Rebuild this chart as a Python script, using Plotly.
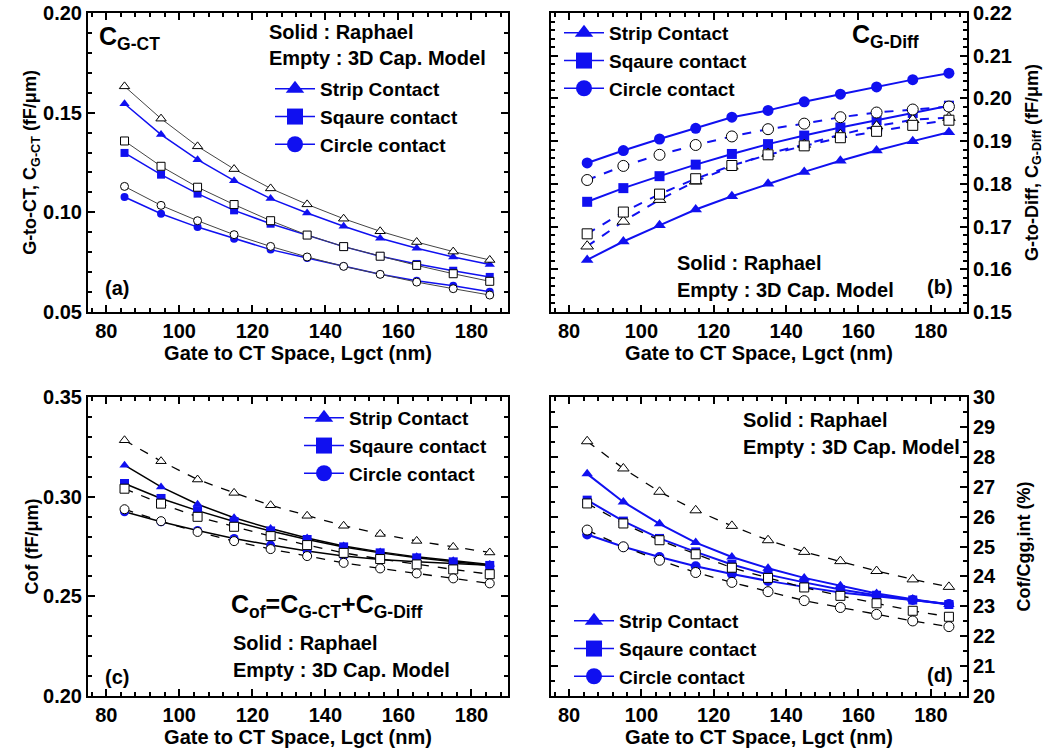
import plotly.graph_objects as go

W, H = 1064, 753

# ---------------- data ----------------
lgct = [85, 95, 105, 115, 125, 135, 145, 155, 165, 175, 185]

# (a) C_G-CT (fF/um)
a_strip_sim = [0.1545, 0.1390, 0.1264, 0.1159, 0.1069, 0.0997, 0.0930, 0.0870, 0.0820, 0.0776, 0.0738]
a_strip_mod = [0.1632, 0.1470, 0.1331, 0.1217, 0.1120, 0.1040, 0.0968, 0.0905, 0.0851, 0.0803, 0.0761]
a_square_sim = [0.1298, 0.1189, 0.1094, 0.1010, 0.0943, 0.0886, 0.0828, 0.0780, 0.0741, 0.0707, 0.0676]
a_square_mod = [0.1358, 0.1231, 0.1126, 0.1039, 0.0958, 0.0886, 0.0828, 0.0780, 0.0734, 0.0692, 0.0654]
a_circle_sim = [0.1077, 0.0993, 0.0926, 0.0868, 0.0813, 0.0771, 0.0729, 0.0689, 0.0657, 0.0632, 0.0602]
a_circle_mod = [0.1130, 0.1035, 0.0958, 0.0888, 0.0829, 0.0776, 0.0729, 0.0689, 0.0650, 0.0617, 0.0585]

# (b) C_G-Diff (fF/um)
b_strip_sim = [0.1622, 0.1665, 0.1703, 0.1740, 0.1771, 0.1800, 0.1828, 0.1854, 0.1878, 0.1900, 0.1921]
b_strip_mod = [0.1654, 0.1712, 0.1763, 0.1806, 0.1841, 0.1871, 0.1892, 0.1915, 0.1935, 0.1950, 0.1955]
b_square_sim = [0.1758, 0.1790, 0.1818, 0.1845, 0.1870, 0.1893, 0.1913, 0.1932, 0.1949, 0.1966, 0.1983]
b_square_mod = [0.1683, 0.1734, 0.1776, 0.1812, 0.1843, 0.1868, 0.1889, 0.1908, 0.1923, 0.1937, 0.1949]
b_circle_sim = [0.1849, 0.1878, 0.1905, 0.1930, 0.1956, 0.1972, 0.1992, 0.2010, 0.2027, 0.2044, 0.2059]
b_circle_mod = [0.1809, 0.1842, 0.1868, 0.1891, 0.1911, 0.1928, 0.1941, 0.1956, 0.1967, 0.1974, 0.1981]

# (c) Cof (fF/um)
c_strip_sim = [0.3158, 0.3049, 0.2962, 0.2894, 0.2840, 0.2793, 0.2753, 0.2723, 0.2698, 0.2678, 0.2660]
c_strip_mod = [0.3283, 0.3178, 0.3086, 0.3019, 0.2957, 0.2904, 0.2854, 0.2813, 0.2778, 0.2748, 0.2720]
c_square_sim = [0.3066, 0.2991, 0.2930, 0.2875, 0.2828, 0.2785, 0.2748, 0.2718, 0.2693, 0.2673, 0.2655]
c_square_mod = [0.3040, 0.2965, 0.2899, 0.2849, 0.2802, 0.2757, 0.2718, 0.2687, 0.2660, 0.2635, 0.2611]
c_circle_sim = [0.2924, 0.2874, 0.2830, 0.2790, 0.2757, 0.2727, 0.2702, 0.2685, 0.2673, 0.2665, 0.2656]
c_circle_mod = [0.2937, 0.2877, 0.2823, 0.2777, 0.2737, 0.2702, 0.2668, 0.2640, 0.2615, 0.2590, 0.2565]

# (d) Cof/Cgg,int (%)
d_strip_sim = [27.43, 26.49, 25.76, 25.13, 24.65, 24.27, 23.95, 23.69, 23.43, 23.24, 23.06]
d_strip_mod = [28.52, 27.61, 26.83, 26.21, 25.69, 25.21, 24.82, 24.51, 24.18, 23.90, 23.65]
d_square_sim = [26.55, 25.85, 25.27, 24.82, 24.40, 24.06, 23.80, 23.56, 23.37, 23.21, 23.06]
d_square_mod = [26.44, 25.77, 25.21, 24.74, 24.29, 23.95, 23.63, 23.35, 23.10, 22.85, 22.65]
d_circle_sim = [25.40, 24.99, 24.65, 24.34, 24.08, 23.85, 23.65, 23.46, 23.34, 23.21, 23.08]
d_circle_mod = [25.55, 24.99, 24.54, 24.13, 23.80, 23.49, 23.19, 22.96, 22.73, 22.51, 22.32]

legend_names = ["Strip Contact", "Sqaure contact", "Circle contact"]
symbols = ["triangle-up", "square", "circle"]

BLUE = "#1010f0"
FONT = "Liberation Sans"


def px(x):
    return x / W


def py(y):
    return 1 - y / H


fig = go.Figure()

panels = [
    dict(xa="x", ya="y", sim=[a_strip_sim, a_square_sim, a_circle_sim],
         mod=[a_strip_mod, a_square_mod, a_circle_mod],
         sim_line=dict(color=BLUE, width=1.5), mod_line=dict(color="#444444", width=1),
         msize=[9, 8, 8], legend="legend"),
    dict(xa="x2", ya="y2", sim=[b_strip_sim, b_square_sim, b_circle_sim],
         mod=[b_strip_mod, b_square_mod, b_circle_mod],
         sim_line=dict(color=BLUE, width=2), mod_line=dict(color=BLUE, width=2, dash="dash"),
         msize=[11, 10, 11], legend="legend2"),
    dict(xa="x3", ya="y3", sim=[c_strip_sim, c_square_sim, c_circle_sim],
         mod=[c_strip_mod, c_square_mod, c_circle_mod],
         sim_line=dict(color="black", width=1.5), mod_line=dict(color="black", width=1.3, dash="dash"),
         msize=[9, 9, 9], legend="legend3"),
    dict(xa="x4", ya="y4", sim=[d_strip_sim, d_square_sim, d_circle_sim],
         mod=[d_strip_mod, d_square_mod, d_circle_mod],
         sim_line=dict(color=BLUE, width=2), mod_line=dict(color="black", width=1.3, dash="dash"),
         msize=[10, 9, 10], legend="legend4"),
]

for p in panels:
    # solid (Raphael) series
    for i in range(3):
        fig.add_trace(go.Scatter(
            x=lgct, y=p["sim"][i], xaxis=p["xa"], yaxis=p["ya"], mode="lines+markers",
            line=p["sim_line"], marker=dict(symbol=symbols[i], size=p["msize"][i], color=BLUE),
            showlegend=False, name=legend_names[i] + " (Raphael)"))
    # empty (3D Cap. Model) series
    for i in range(3):
        fig.add_trace(go.Scatter(
            x=lgct, y=p["mod"][i], xaxis=p["xa"], yaxis=p["ya"], mode="lines+markers",
            line=p["mod_line"],
            marker=dict(symbol=symbols[i], size=p["msize"][i], color="white",
                        line=dict(color="black", width=1)),
            showlegend=False, name=legend_names[i] + " (3D Cap. Model)"))
    # legend entries
    for i in range(3):
        fig.add_trace(go.Scatter(
            x=[None], y=[None], xaxis=p["xa"], yaxis=p["ya"], mode="lines+markers",
            line=dict(color=BLUE, width=1.5),
            marker=dict(symbol=symbols[i], size=16, color=BLUE),
            name=legend_names[i], legend=p["legend"], showlegend=True))

# ---------------- axes ----------------
dom_xl = [px(88), px(508)]
dom_xr = [px(551), px(967)]
dom_yt = [py(312), py(13)]
dom_yb = [py(696), py(397)]

tickfont = dict(family=FONT, size=20, color="black", weight="bold")
xtitlefont = dict(family=FONT, size=20, color="black", weight="bold")
ytitlefont = dict(family=FONT, size=18, color="black", weight="bold")


def xaxis(dom, anchor):
    return dict(domain=dom, anchor=anchor, range=[75, 190], dtick=20, tick0=80,
                automargin=False,
                showline=True, linecolor="black", linewidth=2, mirror="allticks",
                ticks="inside", ticklen=7, tickwidth=2, tickcolor="black",
                minor=dict(dtick=4, tick0=80, ticks="inside", ticklen=4, tickwidth=1.5, tickcolor="black"),
                showgrid=False, zeroline=False, tickfont=tickfont,
                title=dict(text="Gate to CT Space, Lgct (nm)", font=xtitlefont, standoff=4))


def yaxis(dom, anchor, rng, dtick, mdtick, title, side, fmt, standoff):
    return dict(domain=dom, anchor=anchor, range=rng, dtick=dtick, tick0=rng[0],
                side=side, tickformat=fmt, automargin=False,
                showline=True, linecolor="black", linewidth=2, mirror="allticks",
                ticks="inside", ticklen=7, tickwidth=2, tickcolor="black",
                minor=dict(dtick=mdtick, ticks="inside", ticklen=4, tickwidth=1.5, tickcolor="black"),
                showgrid=False, zeroline=False, tickfont=tickfont,
                title=dict(text=title, font=ytitlefont, standoff=standoff))


fig.update_layout(
    xaxis=xaxis(dom_xl, "y"),
    yaxis=yaxis(dom_yt, "x", [0.05, 0.20], 0.05, 0.01,
                "G-to-CT, C<sub>G-CT</sub> (fF/μm)", "left", ".2f", 0),
    xaxis2=xaxis(dom_xr, "y2"),
    yaxis2=yaxis(dom_yt, "x2", [0.15, 0.22], 0.01, 0.002,
                 "G-to-Diff, C<sub>G-Diff</sub> (fF/μm)", "right", ".2f", 14),
    xaxis3=xaxis(dom_xl, "y3"),
    yaxis3=yaxis(dom_yb, "x3", [0.20, 0.35], 0.05, 0.01,
                 "Cof (fF/μm)", "left", ".2f", 0),
    xaxis4=xaxis(dom_xr, "y4"),
    yaxis4=yaxis(dom_yb, "x4", [20, 30], 1, 0.5,
                 "Cof/Cgg,int (%)", "right", "d", 22),
)

legfont = dict(family=FONT, size=19, color="black", weight="bold")


def leg(x, y):
    return dict(x=px(x), y=py(y), xref="paper", yref="paper", xanchor="left", yanchor="top",
                bgcolor="rgba(0,0,0,0)", borderwidth=0, font=legfont, itemwidth=40,
                tracegroupgap=0, itemclick=False, itemdoubleclick=False)


fig.update_layout(
    legend=leg(270, 70),
    legend2=leg(559, 14),
    legend3=leg(299, 399),
    legend4=leg(569, 602),
)

# ---------------- annotations ----------------
txt = dict(family=FONT, size=20, color="black", weight="bold")
big = dict(family=FONT, size=25, color="black", weight="bold")


def ann(text, x, y, xanchor="left", yanchor="middle", font=txt):
    fig.add_annotation(text=text, x=px(x), y=py(y), xref="paper", yref="paper",
                       xanchor=xanchor, yanchor=yanchor, showarrow=False, font=font)


# (a)
ann("Solid : Raphael", 267, 32)
ann("Empty : 3D Cap. Model", 267, 58)
ann("C<sub>G-CT</sub>", 97, 20, yanchor="top", font=big)
ann("(a)", 103, 288)
# (b)
ann("C<sub>G-Diff</sub>", 850, 18, yanchor="top", font=big)
ann("Solid : Raphael", 675, 263)
ann("Empty : 3D Cap. Model", 675, 290)
ann("(b)", 955, 287, xanchor="right")
# (c)
ann("C<sub>of</sub>=C<sub>G-CT</sub>+C<sub>G-Diff</sub>", 229, 588, yanchor="top", font=big)
ann("Solid : Raphael", 231, 643)
ann("Empty : 3D Cap. Model", 231, 670)
ann("(c)", 103, 677)
# (d)
ann("Solid : Raphael", 741, 420)
ann("Empty : 3D Cap. Model", 741, 447)
ann("(d)", 955, 675, xanchor="right")

fig.update_layout(
    width=W, height=H,
    margin=dict(l=0, r=0, t=0, b=0),
    paper_bgcolor="white", plot_bgcolor="white",
    font=dict(family=FONT, size=18, color="black", weight="bold"),
)

fig.write_html("out.html", config={"displayModeBar": False},
               post_script="document.body.style.margin='0px';")
